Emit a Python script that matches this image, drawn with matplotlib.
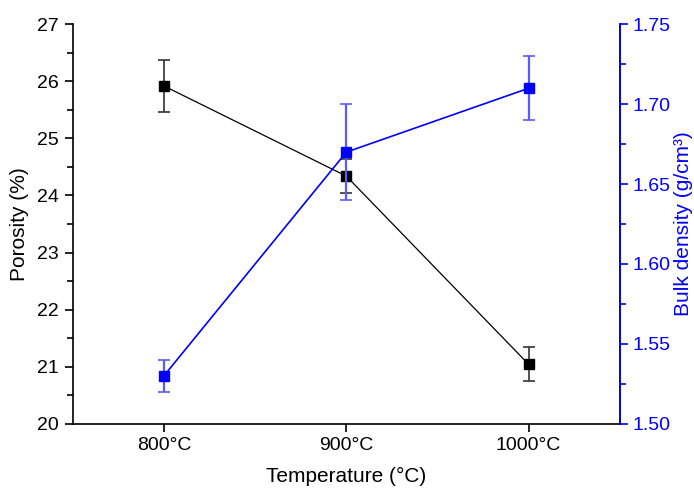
import matplotlib
matplotlib.use("Agg")
import matplotlib.pyplot as plt
from matplotlib.ticker import MultipleLocator, FormatStrFormatter

plt.rcParams['font.family'] = ['Liberation Sans', 'DejaVu Sans']

temperatures = ["800°C", "900°C", "1000°C"]
porosity = [25.92, 24.34, 21.04]
porosity_err = [0.45, 0.30, 0.30]
density = [1.530, 1.670, 1.710]
density_err = [0.010, 0.030, 0.020]

blue = "#0000ff"

fig = plt.figure(figsize=(6.94, 4.88), dpi=100)
ax = fig.add_axes([0.105, 0.132, 0.788, 0.818])
ax2 = ax.twinx()

x = list(range(len(temperatures)))

ax.errorbar(x, porosity, yerr=porosity_err, color="black", lw=0.9,
            marker="s", ms=7, mfc="black", mec="black",
            ecolor="#333333", elinewidth=1.2, capsize=4, capthick=1.2, zorder=3)
ax2.errorbar(x, density, yerr=density_err, color=blue, lw=1.2,
             marker="s", ms=7, mfc=blue, mec=blue,
             ecolor="#5a5aff", elinewidth=1.6, capsize=4, capthick=1.2, zorder=3)

ax.set_xlim(-0.5, 2.5)
ax.set_ylim(20, 27)
ax2.set_ylim(1.50, 1.75)

ax.set_xticks(x)
ax.set_xticklabels(temperatures)
ax.yaxis.set_major_locator(MultipleLocator(1))
ax.yaxis.set_minor_locator(MultipleLocator(0.5))
ax2.yaxis.set_major_locator(MultipleLocator(0.05))
ax2.yaxis.set_minor_locator(MultipleLocator(0.025))
ax2.yaxis.set_major_formatter(FormatStrFormatter("%.2f"))

for a in (ax, ax2):
    a.spines["top"].set_visible(False)
    for s in a.spines.values():
        s.set_linewidth(1.2)

ax.tick_params(axis="both", which="major", direction="out", length=6, width=1.2,
               labelsize=14, pad=4)
ax.tick_params(axis="y", which="minor", direction="out", length=4, width=1.2)
ax.tick_params(axis="x", which="minor", bottom=False)

ax2.spines["right"].set_color(blue)
ax2.spines["left"].set_visible(False)
ax2.spines["bottom"].set_visible(False)
ax2.tick_params(axis="y", which="major", direction="out", length=6, width=1.2,
                colors=blue, labelsize=14, pad=3)
ax2.tick_params(axis="y", which="minor", direction="out", length=4, width=1.2,
                colors=blue)

ax.set_xlabel("Temperature (°C)", fontsize=15, labelpad=9)
ax.set_ylabel("Porosity (%)", fontsize=15, labelpad=6)
ax2.set_ylabel("Bulk density (g/cm³)", fontsize=15, color=blue, labelpad=3)

fig.savefig("out.png", dpi=100)
